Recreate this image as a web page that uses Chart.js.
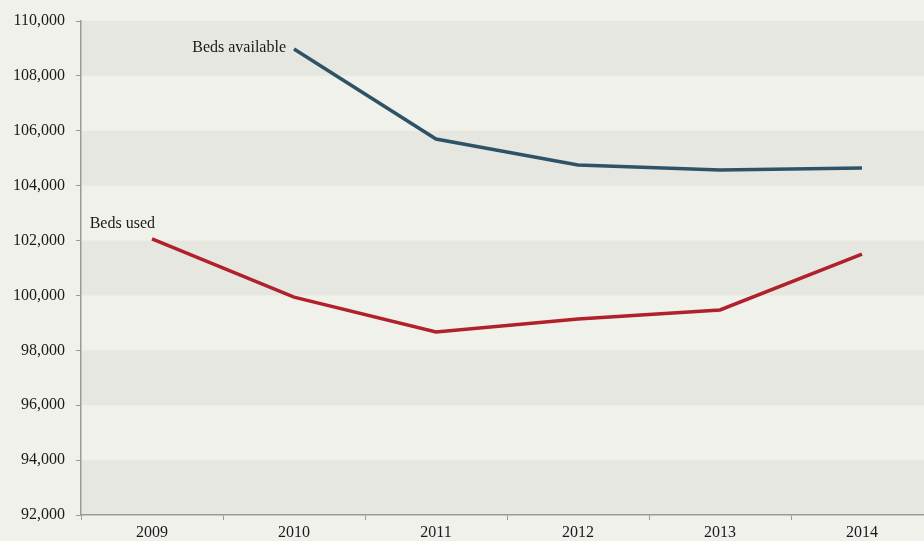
<!DOCTYPE html>
<html>
<head>
<meta charset="utf-8">
<script src="https://cdn.jsdelivr.net/npm/chart.js@4"></script>
<style>
  html, body { margin: 0; padding: 0; background: #f1f1ec; overflow: hidden; }
  #wrap { width: 934px; height: 541px; }
</style>
</head>
<body>
<div id="wrap"><canvas id="chart" width="934" height="541"></canvas></div>
<script>
const years = ['2009', '2010', '2011', '2012', '2013', '2014'];
const bedsAvailable = [null, 108980, 105700, 104750, 104570, 104640];
const bedsUsed = [102060, 99940, 98670, 99140, 99470, 101510];
const yMin = 92000, yMax = 110000, yStep = 2000;

const serif = "'Liberation Serif', 'DejaVu Serif', serif";
const axisGrey = '#9a9a96';

// page background plus alternating horizontal bands
const bands = {
  id: 'bands',
  beforeDraw(chart) {
    const { ctx, chartArea, scales } = chart;
    ctx.save();
    ctx.fillStyle = '#f1f1ec';
    ctx.fillRect(0, 0, chart.width, chart.height);
    ctx.fillStyle = '#e7e7e2';
    for (let v = yMax; v > yMin; v -= 2 * yStep) {
      const top = scales.y.getPixelForValue(v);
      const bottom = scales.y.getPixelForValue(v - yStep);
      ctx.fillRect(chartArea.left, top, chartArea.right - chartArea.left, bottom - top);
    }
    ctx.restore();
  }
};

// series names written beside the first point of each line
const lineLabels = {
  id: 'lineLabels',
  afterDatasetsDraw(chart) {
    const { ctx } = chart;
    const avail = chart.getDatasetMeta(0).data[1];
    const used = chart.getDatasetMeta(1).data[0];
    ctx.save();
    ctx.font = '16px ' + serif;
    ctx.fillStyle = '#1a1a1a';
    ctx.textAlign = 'right';
    ctx.textBaseline = 'middle';
    ctx.fillText('Beds available', avail.x - 8, avail.y - 1);
    ctx.fillText('Beds used', used.x + 3, used.y - 15);
    ctx.restore();
  }
};

new Chart(document.getElementById('chart'), {
  type: 'line',
  data: {
    labels: years,
    datasets: [
      {
        label: 'Beds available',
        data: bedsAvailable,
        borderColor: '#2f5366',
        borderWidth: 3.5,
        pointRadius: 0,
        tension: 0
      },
      {
        label: 'Beds used',
        data: bedsUsed,
        borderColor: '#b0212b',
        borderWidth: 3.5,
        pointRadius: 0,
        tension: 0
      }
    ]
  },
  options: {
    responsive: false,
    animation: false,
    layout: { padding: { top: 21, left: 0, right: 1, bottom: 0 } },
    plugins: {
      legend: { display: false },
      tooltip: { enabled: false }
    },
    scales: {
      x: {
        offset: true,
        grid: { offset: true, drawOnChartArea: false, drawTicks: true, tickLength: 5, tickColor: axisGrey },
        border: { color: axisGrey, width: 1.5 },
        ticks: { color: '#1a1a1a', font: { family: serif, size: 16 }, padding: 3, maxRotation: 0 },
        afterFit(s) { s.height = 26; }
      },
      y: {
        min: yMin,
        max: yMax,
        grid: { drawOnChartArea: false, drawTicks: true, tickLength: 5, tickColor: axisGrey },
        border: { color: axisGrey, width: 1.5 },
        ticks: {
          stepSize: yStep,
          color: '#1a1a1a',
          font: { family: serif, size: 16 },
          padding: 11,
          callback: v => v.toLocaleString('en-US')
        },
        afterFit(s) { s.width = 81; }
      }
    }
  },
  plugins: [bands, lineLabels]
});
</script>
</body>
</html>
